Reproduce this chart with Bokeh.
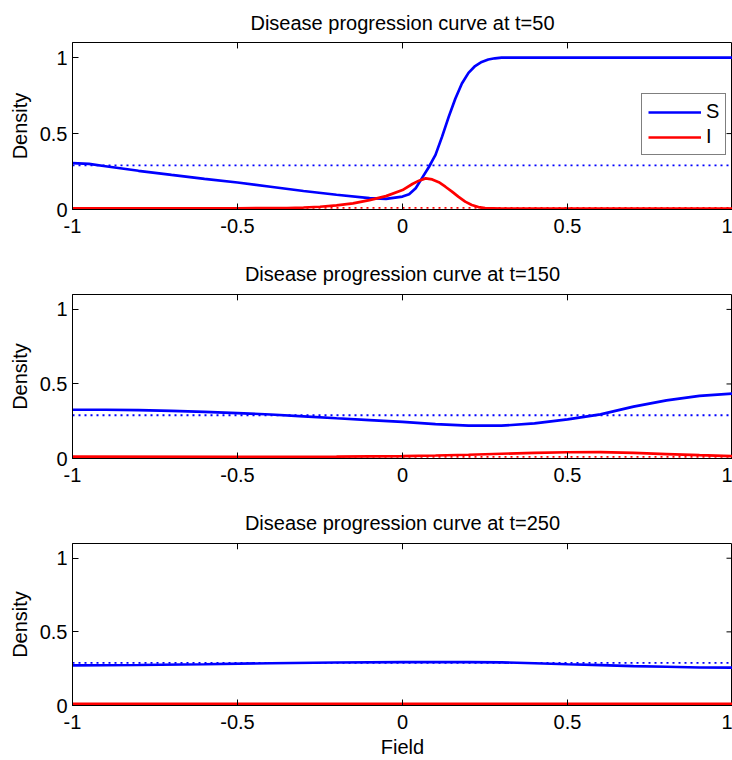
from bokeh.plotting import figure
from bokeh.models import (Legend, LegendItem, FixedTicker, Range1d,
                          NumeralTickFormatter)
from bokeh.layouts import column
from bokeh.embed import file_html
from bokeh.resources import INLINE

FONT = "Liberation Sans"
BLUE = "#0000ff"
RED = "#ff0000"

# axis limits and ticks
x_limits = [-1.0, 1.0]
y_limits = [0.0, 1.1]
x_ticks = [-1, -0.5, 0, 0.5, 1]
y_ticks = [0, 0.5, 1]

# equilibrium densities (dotted reference lines)
s_equilibrium = 0.29
i_equilibrium = 0.011

# ---- t = 50 ----
x_s50 = [-1.0, -0.95, -0.9, -0.8, -0.7, -0.6, -0.5, -0.4, -0.3, -0.2, -0.1,
         -0.05, 0.0, 0.02, 0.04, 0.06, 0.08, 0.09, 0.10, 0.12, 0.14, 0.16,
         0.18, 0.20, 0.22, 0.24, 0.26, 0.28, 0.30, 0.35, 0.5, 0.75, 1.0]
s50 = [0.305, 0.300, 0.285, 0.255, 0.228, 0.202, 0.178, 0.150, 0.122, 0.097,
       0.075, 0.070, 0.085, 0.100, 0.140, 0.210, 0.280, 0.320, 0.360, 0.480,
       0.610, 0.730, 0.830, 0.900, 0.945, 0.972, 0.988, 0.996, 1.0, 1.0, 1.0,
       1.0, 1.0]
x_i50 = [-1.0, -0.5, -0.4, -0.35, -0.3, -0.25, -0.2, -0.15, -0.1, -0.05, 0.0,
         0.03, 0.05, 0.07, 0.09, 0.11, 0.13, 0.15, 0.17, 0.19, 0.21, 0.23,
         0.25, 0.3, 0.5, 1.0]
i50 = [0.008, 0.008, 0.009, 0.010, 0.013, 0.018, 0.027, 0.040, 0.062, 0.088,
       0.128, 0.168, 0.190, 0.205, 0.198, 0.180, 0.150, 0.118, 0.083, 0.052,
       0.030, 0.016, 0.009, 0.006, 0.006, 0.006]

# ---- t = 150 ----
x_s150 = [-1.0, -0.9, -0.8, -0.7, -0.6, -0.5, -0.4, -0.3, -0.2, -0.1, 0.0,
          0.1, 0.2, 0.3, 0.4, 0.5, 0.6, 0.7, 0.8, 0.9, 1.0]
s150 = [0.327, 0.327, 0.325, 0.320, 0.313, 0.305, 0.295, 0.283, 0.270, 0.258,
        0.246, 0.230, 0.220, 0.220, 0.235, 0.262, 0.296, 0.348, 0.390, 0.420,
        0.435]
x_i150 = [-1.0, -0.5, -0.2, 0.0, 0.1, 0.2, 0.3, 0.4, 0.5, 0.6, 0.7, 0.8, 0.9,
          1.0]
i150 = [0.012, 0.011, 0.012, 0.016, 0.020, 0.025, 0.032, 0.038, 0.042, 0.043,
        0.038, 0.030, 0.022, 0.016]

# ---- t = 250 ----
x_s250 = [-1.0, -0.8, -0.6, -0.4, -0.2, 0.0, 0.2, 0.3, 0.4, 0.5, 0.6, 0.7,
          0.8, 0.9, 1.0]
s250 = [0.273, 0.275, 0.280, 0.287, 0.292, 0.294, 0.295, 0.293, 0.287, 0.280,
        0.274, 0.268, 0.263, 0.258, 0.257]
x_i250 = [-1.0, -0.5, 0.0, 0.5, 1.0]
i250 = [0.011, 0.011, 0.012, 0.012, 0.011]

panels = [
    dict(t=50, xs=x_s50, s=s50, xi=x_i50, i=i50),
    dict(t=150, xs=x_s150, s=s150, xi=x_i150, i=i150),
    dict(t=250, xs=x_s250, s=s250, xi=x_i250, i=i250),
]

FRAME_W = 660
FRAME_H = 168
TICK_PX = 6


def style_axis(ax, ticks, standoff):
    ax.ticker = FixedTicker(ticks=ticks)
    ax.formatter = NumeralTickFormatter(format="0.[0]")
    ax.major_tick_in = TICK_PX
    ax.major_tick_out = 0
    ax.minor_tick_line_color = None
    ax.axis_line_color = "black"
    ax.major_tick_line_color = "black"
    ax.major_label_text_font = FONT
    ax.major_label_text_color = "black"
    ax.major_label_text_font_size = "20px"
    ax.major_label_standoff = standoff
    ax.axis_label_text_font = FONT
    ax.axis_label_text_font_size = "20px"
    ax.axis_label_text_font_style = "normal"
    ax.axis_label_text_color = "black"


def make_panel(d, first, last):
    top = 41 if first else 40
    bottom = 53 if last else 41
    height = top + FRAME_H + bottom
    p = figure(width=72 + FRAME_W, height=height, output_backend="svg",
               toolbar_location=None,
               x_range=Range1d(*x_limits), y_range=Range1d(*y_limits),
               min_border_left=72, min_border_right=0,
               min_border_top=top, min_border_bottom=bottom)
    p.background_fill_color = "white"
    p.border_fill_color = "white"
    p.outline_line_color = "black"
    p.outline_line_width = 1
    p.outline_line_alpha = 1
    p.xgrid.visible = False
    p.ygrid.visible = False

    p.title.text = f"Disease progression curve at t={d['t']}"
    p.title.align = "center"
    p.title.text_font = FONT
    p.title.text_font_size = "20px"
    p.title.text_font_style = "normal"
    p.title.text_color = "black"
    p.title.standoff = 18 if first else 20

    style_axis(p.xaxis[0], x_ticks, 9)
    style_axis(p.yaxis[0], y_ticks, 5)
    p.yaxis[0].axis_label = "Density"
    p.yaxis[0].axis_label_standoff = 6
    if last:
        p.xaxis[0].axis_label = "Field"
        p.xaxis[0].axis_label_standoff = 4

    # inward tick marks mirrored on the top and right edges of the box
    dy = TICK_PX * (y_limits[1] - y_limits[0]) / FRAME_H
    dx = TICK_PX * (x_limits[1] - x_limits[0]) / FRAME_W
    p.segment(x0=x_ticks, y0=[y_limits[1]] * len(x_ticks),
              x1=x_ticks, y1=[y_limits[1] - dy] * len(x_ticks),
              line_color="black", line_width=1)
    p.segment(x0=[x_limits[1]] * len(y_ticks), y0=y_ticks,
              x1=[x_limits[1] - dx] * len(y_ticks), y1=y_ticks,
              line_color="black", line_width=1)

    s_line = p.line(d["xs"], d["s"], line_color=BLUE, line_width=2.7)
    i_line = p.line(d["xi"], d["i"], line_color=RED, line_width=2.7)
    p.line(x_limits, [s_equilibrium] * 2, line_color=BLUE, line_width=1.8,
           line_dash="2 4")
    p.line(x_limits, [i_equilibrium] * 2, line_color=RED, line_width=1.8,
           line_dash="2 4")

    if first:
        legend = Legend(items=[LegendItem(label="S", renderers=[s_line]),
                               LegendItem(label="I", renderers=[i_line])],
                        location=(569, 54))
        legend.label_text_font = FONT
        legend.label_text_font_size = "20px"
        legend.label_text_color = "black"
        legend.glyph_width = 53
        legend.glyph_height = 20
        legend.label_height = 20
        legend.label_width = 8
        legend.label_standoff = 5
        legend.spacing = 2
        legend.padding = 6
        legend.margin = 0
        legend.border_line_color = "black"
        legend.border_line_width = 1
        legend.background_fill_alpha = 1
        p.add_layout(legend)
    return p


plots = [make_panel(d, first=(k == 0), last=(k == 2))
         for k, d in enumerate(panels)]
layout = column(*plots, spacing=0)

with open("out.html", "w") as f:
    f.write(file_html(layout, INLINE))
